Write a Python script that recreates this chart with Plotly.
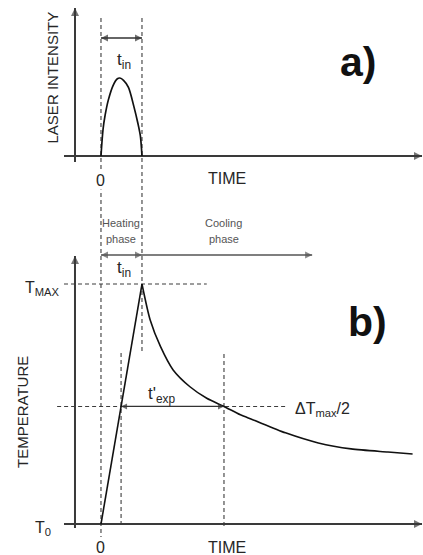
import plotly.graph_objects as go

# ---------------------------------------------------------------------------
# Data (time in units of the pulse length t_in)
# ---------------------------------------------------------------------------
# a) laser pulse, intensity normalised to its peak
pulse_t = [0.0, 0.05, 0.1, 0.18, 0.3, 0.4, 0.46, 0.55, 0.67, 0.8, 0.9, 0.96, 1.0]
pulse_i = [0.0, 0.34, 0.52, 0.72, 0.91, 0.99, 1.0, 0.97, 0.88, 0.64, 0.42, 0.26, 0.0]

# b) temperature rise (T0 = 0, TMAX = 1): linear heating, then relaxation
heat_t = [0.0, 1.0]
heat_T = [0.0, 1.0]
cool_t = [1.0, 1.2, 1.45, 1.76, 2.17, 2.58, 3.0, 3.4, 3.7, 4.5, 5.3, 6.1, 7.0, 7.6]
cool_T = [1.0, 0.85, 0.74, 0.642, 0.572, 0.524, 0.49, 0.455, 0.435, 0.38, 0.338, 0.313, 0.30, 0.292]

T_IN = 1.0            # end of the pulse / heating phase
HALF_LEVEL = 0.49     # ΔTmax/2 level
HALF_START = 0.49     # heating line crosses the half level
HALF_END = 3.0        # cooling curve crosses the half level
COOL_ARROW_END = 5.15

# ---------------------------------------------------------------------------
# Layout geometry
# ---------------------------------------------------------------------------
X_RANGE = [-2.463, 7.854]
TOP_DOMAIN = [0.6396, 1.0]
BOT_DOMAIN = [0.0, 0.6396]
TOP_RANGE = [-0.564, 2.0]
BOT_RANGE = [-0.129, 1.35]
AXIS_X = -0.634       # time at which the vertical axes stand
AXIS_X0 = -0.902      # left start of horizontal axes
AXIS_X1 = 7.83        # arrow tip of horizontal axes

FONT = "Liberation Sans, Arial, sans-serif"
INK = "#262626"
AXIS_COL = "#3a3a3a"
DASH_COL = "#3c3c3c"
DASH = "4px,3px"

fig = go.Figure()

shapes = []
heads = {1: dict(x=[], y=[], symbol=[], size=[], color=[]),
         2: dict(x=[], y=[], symbol=[], size=[], color=[])}


def refs(panel):
    return ("x", "y") if panel == 1 else ("x2", "y2")


def segment(x0, y0, x1, y1, panel, color, width, dash=None):
    xr, yr = refs(panel)
    line = dict(color=color, width=width)
    if dash:
        line["dash"] = dash
    shapes.append(dict(type="line", xref=xr, yref=yr, x0=x0, y0=y0, x1=x1, y1=y1,
                       line=line, layer="below"))


def dashed(x0, y0, x1, y1, panel):
    segment(x0, y0, x1, y1, panel, DASH_COL, 1.1, DASH)


def head(x, y, direction, panel, size, color):
    h = heads[panel]
    h["x"].append(x)
    h["y"].append(y)
    h["symbol"].append("arrow-" + direction)
    h["size"].append(size)
    h["color"].append(color)


def arrow(x0, y0, x1, y1, panel, width=1.3, color="#3a3a3a", both=False, size=7):
    segment(x0, y0, x1, y1, panel, color, width)
    if y0 == y1:
        head(x1, y1, "right" if x1 > x0 else "left", panel, size, color)
        if both:
            head(x0, y0, "left" if x1 > x0 else "right", panel, size, color)
    else:
        head(x1, y1, "up" if y1 > y0 else "down", panel, size, color)
        if both:
            head(x0, y0, "down" if y1 > y0 else "up", panel, size, color)


# guide lines at t = 0 and t = t_in running through both panels
dashed(0, 1.769, 0, TOP_RANGE[0], 1)
dashed(T_IN, 1.769, T_IN, TOP_RANGE[0], 1)
dashed(0, BOT_RANGE[1], 0, -0.054, 2)
dashed(T_IN, BOT_RANGE[1], T_IN, 0.7125, 2)
# TMAX level and half level
dashed(AXIS_X0, 1.0, 2.58, 1.0, 2)
dashed(-1.07, HALF_LEVEL, 4.56, HALF_LEVEL, 2)
# verticals marking the half-level crossings
dashed(HALF_START, 0.7125, HALF_START, -0.013, 2)
dashed(HALF_END, 0.708, HALF_END, -0.013, 2)

# axes with arrow heads
arrow(AXIS_X, -0.077, AXIS_X, 1.897, 1, width=2, color=AXIS_COL, size=8)
arrow(AXIS_X0, 0, AXIS_X1, 0, 1, width=2, color=AXIS_COL, size=8)
arrow(AXIS_X, -0.017, AXIS_X, 1.117, 2, width=2, color=AXIS_COL, size=8)
arrow(AXIS_X0, 0, AXIS_X1, 0, 2, width=2, color=AXIS_COL, size=8)

# pulse length and phase arrows
arrow(0, 1.513, T_IN, 1.513, 1, width=1.3, color="#333333", both=True, size=7)
arrow(0, 1.121, T_IN, 1.121, 2, width=1.6, color="#555555", both=True, size=7)
arrow(T_IN, 1.121, COOL_ARROW_END, 1.121, 2, width=1.6, color="#555555", size=7)
arrow(HALF_START, HALF_LEVEL, HALF_END, HALF_LEVEL, 2, width=1.2, color="#333333",
      both=True, size=6)

# curves
fig.add_trace(go.Scatter(x=pulse_t, y=pulse_i, mode="lines", xaxis="x", yaxis="y",
                         line=dict(color="#111111", width=1.7, shape="spline", smoothing=0.8),
                         hoverinfo="skip"))
fig.add_trace(go.Scatter(x=heat_t, y=heat_T, mode="lines", xaxis="x2", yaxis="y2",
                         line=dict(color="#111111", width=1.6), hoverinfo="skip"))
fig.add_trace(go.Scatter(x=cool_t, y=cool_T, mode="lines", xaxis="x2", yaxis="y2",
                         line=dict(color="#111111", width=1.6, shape="spline", smoothing=0.7),
                         hoverinfo="skip"))

# arrow heads
for panel, h in heads.items():
    xr, yr = refs(panel)
    fig.add_trace(go.Scatter(x=h["x"], y=h["y"], mode="markers", xaxis=xr, yaxis=yr,
                             marker=dict(symbol=h["symbol"], size=h["size"], color=h["color"],
                                         line=dict(width=0)),
                             hoverinfo="skip", cliponaxis=False))

annotations = []


def label(x, y, text, panel, size=16, color=INK, angle=0, xanchor="center", bold=False, bg=None):
    xr, yr = refs(panel)
    d = dict(x=x, y=y, xref=xr, yref=yr, text=text, showarrow=False, textangle=angle,
             xanchor=xanchor, yanchor="middle",
             font=dict(family=FONT, size=size, color=color))
    if bold:
        d["text"] = "<b>" + text + "</b>"
    if bg:
        d["bgcolor"] = bg
        d["borderpad"] = 0
    annotations.append(d)


# panel a) labels
label(-1.183, 1.013, "LASER INTENSITY", 1, size=15, angle=-90)
label(0, -0.308, "0", 1, size=16, bg="white")
label(3.07, -0.282, "TIME", 1, size=16)
label(0.573, 1.218, "t<sub>in</sub>", 1, size=17)
label(6.27, 1.205, "a)", 1, size=41, color="#111111", bold=True)

# panel b) labels
label(-1.902, 0.467, "TEMPERATURE", 2, size=15, angle=-90)
label(0, -0.096, "0", 2, size=16)
label(3.07, -0.096, "TIME", 2, size=16)
label(-0.951, 0.983, "T<sub>MAX</sub>", 2, size=16, xanchor="right")
label(-1.17, -0.017, "T<sub>0</sub>", 2, size=16, xanchor="right")
label(0.56, 1.0625, "t<sub>in</sub>", 2, size=17)
label(0.488, 1.254, "Heating", 2, size=11, color="#555555")
label(0.488, 1.1875, "phase", 2, size=11, color="#555555")
label(3.0, 1.254, "Cooling", 2, size=11, color="#555555")
label(3.0, 1.1875, "phase", 2, size=11, color="#555555")
label(1.5, 0.5375, "t'<sub>exp</sub>", 2, size=17)
label(4.68, 0.479, "ΔT<sub>max</sub>/2", 2, size=16, xanchor="left")
label(6.49, 0.842, "b)", 2, size=41, color="#111111", bold=True)

hidden = dict(visible=False, showgrid=False, zeroline=False, fixedrange=True)
fig.update_layout(
    width=423, height=555, autosize=False,
    margin=dict(l=0, r=0, t=0, b=0),
    paper_bgcolor="white", plot_bgcolor="white",
    showlegend=False, hovermode=False,
    xaxis=dict(domain=[0, 1], range=X_RANGE, anchor="y", **hidden),
    yaxis=dict(domain=TOP_DOMAIN, range=TOP_RANGE, anchor="x", **hidden),
    xaxis2=dict(domain=[0, 1], range=X_RANGE, anchor="y2", **hidden),
    yaxis2=dict(domain=BOT_DOMAIN, range=BOT_RANGE, anchor="x2", **hidden),
    shapes=shapes,
    annotations=annotations,
)

fig.write_html("out.html", config=dict(displayModeBar=False, staticPlot=True))
